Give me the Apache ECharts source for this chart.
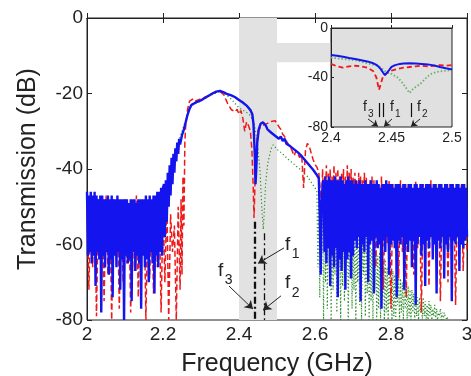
<!DOCTYPE html>
<html>
<head>
<meta charset="utf-8">
<script src="https://cdn.jsdelivr.net/npm/echarts@6/dist/echarts.min.js"></script>
<style>
  html, body { margin: 0; padding: 0; background: #fff; }
  #c { width: 471px; height: 376px; }
</style>
</head>
<body>
<div id="c"></div>
<script>
// ---- measured transmission (dB) ----
// Blue trace, stop band below 2.2 GHz (grid 2.000 GHz, step 2.5 MHz)
const blueLow = [
  -46,-63,-47,-62,-46,-65,-47,-63,-46,-71,-47,-62,-48,-64,-47,-78,-47,-63,-48,-66,
  -48,-62,-47,-68,-48,-64,-47,-74,-48,-63,-48,-66,-47,-62,-48,-72,-48,-64,-48,-80,
  -48,-63,-48,-65,-49,-64,-48,-75,-48,-62,-48,-67,-49,-63,-48,-65,-48,-77,-48,-63,
  -48,-66,-47,-64,-48,-70,-47,-62,-48,-65,-47,-73,-47,-63,-46,-66,-46,-62,-45,-63,
  -45
];
// Blue trace, pass band [GHz, dB]
const bluePass = [
  [2.2025,-44],[2.205,-58],[2.2075,-43],[2.21,-54],[2.2125,-41],[2.215,-50],[2.2175,-39],
  [2.22,-47],[2.2225,-37],[2.225,-44],[2.2275,-36],[2.23,-41],[2.2325,-34.5],[2.235,-38],
  [2.2375,-33],[2.24,-36],[2.2425,-32],[2.245,-33.5],[2.25,-31],[2.255,-29.5],[2.26,-27.5],
  [2.265,-25.5],[2.27,-24],[2.275,-23],[2.28,-22.6],[2.29,-22.2],[2.3,-21.8],[2.31,-21.2],
  [2.32,-20.6],[2.33,-20],[2.34,-19.5],[2.35,-19.3],[2.36,-19.7],[2.37,-20.2],[2.38,-20.5],
  [2.39,-21],[2.4,-21.7],[2.41,-22.4],[2.42,-23.2],[2.43,-24.4],[2.435,-25.5],[2.438,-28],
  [2.4415,-36],[2.4435,-44],[2.4455,-40],[2.448,-33],[2.452,-29.5],[2.457,-28],[2.463,-27.6],
  [2.47,-28.4],[2.475,-29.5],[2.48,-29.2],[2.485,-30.4],[2.49,-30],[2.495,-31.2],[2.5,-30.8],
  [2.505,-32],[2.51,-31.4],[2.515,-32.6],[2.52,-32],[2.525,-33.3],[2.53,-32.8],[2.535,-34],
  [2.54,-33.5],[2.545,-34.8],[2.55,-34.3],[2.555,-35.6],[2.56,-35.2],[2.565,-36.6],[2.57,-36.2],
  [2.575,-37.8],[2.58,-37.4],[2.585,-39],[2.59,-38.6],[2.595,-40.2],[2.6,-40],[2.605,-41.6],
  [2.61,-42.5],[2.6125,-52],[2.615,-68],[2.6175,-50],[2.62,-44]
];
// Blue trace, upper stop band (grid 2.6225 GHz, step 2.5 MHz)
const blueHigh = [
  -43,-62,-42,-65,-43,-61,-42,-71,-43,-63,-43,-66,-42,-61,-43,-74,-43,-64,-42,-67,-43,-62,-44,-72,-43,-64,-42,-62,-43,-69,-43,-63,
  -44,-59,-43,-61,-44,-58,-43,-75,-44,-60,-44,-62,-43,-58,-44,-70,-44,-60,-43,-59,-44,-73,-44,-58,-43,-61,-44,-60,-45,-77,-44,-59,-44,-62,-43,-58,-44,-68,-44,-60,
  -44,-59,-45,-61,-44,-74,-44,-59,-44,-60,-45,-58,-44,-72,-44,-60,-45,-62,-44,-59,-44,-66,-45,-59,-44,-76,-44,-60,-45,-58,-44,-63,-44,-60,-45,-71,-44,-59,-44,-61,
  -44,-58,-45,-64,-44,-60,-44,-73,-45,-59,-44,-61,-44,-58,-45,-69,-44,-60,-44,-62,-45,-58,-44,-75,-44,-59,-45,-60,-44,-58,-44,-67,-45,-60,-44,-61,-44,-59,-45,-58
];

// Red trace, lower stop band (grid 2.000 GHz, step 5 MHz)
const redLow = [
  -48,-72,-47,-66,-49,-79,-48,-64,-50,-75,-47,-68,-49,-80,-48,-63,-50,-77,-49,-70,
  -48,-65,-50,-78,-49,-67,-47,-74,-50,-62,-48,-80,-49,-69,-50,-73,-48,-66,-49,-78,
  -50,-70,-48,-80,-52,-62,-55,-80,-50,-72
];
// Red trace, pass band [GHz, dB]
const redPass = [
  [2.2475,-48],[2.25,-68],[2.2525,-42],[2.255,-55],[2.2575,-33],[2.26,-28],[2.265,-24],
  [2.27,-22],[2.275,-21.5],[2.28,-21.4],[2.285,-22],[2.29,-21.6],[2.3,-21.4],[2.31,-21],
  [2.32,-20.6],[2.33,-20],[2.34,-19.6],[2.35,-19.5],[2.36,-20.3],[2.365,-21.5],[2.37,-22.6],
  [2.375,-23.5],[2.38,-24.3],[2.385,-23.8],[2.39,-24.8],[2.395,-24.2],[2.4,-25.5],[2.405,-24.5],
  [2.41,-26.5],[2.415,-30],[2.42,-27.5],[2.425,-28.5],[2.43,-30],[2.434,-35],[2.4375,-45],
  [2.4395,-53],[2.4415,-46],[2.444,-38],[2.447,-33],[2.45,-30],[2.455,-29.2],[2.46,-28.7],
  [2.465,-28.3],[2.47,-28.5],[2.475,-27.9],[2.48,-28.2],[2.485,-27.4],[2.49,-27.8],[2.495,-27.2],
  [2.5,-27.4],[2.505,-28.8],[2.51,-29.5],[2.515,-30.8],[2.52,-31.4],[2.525,-32.6],[2.53,-33.5],
  [2.535,-34.2],[2.54,-35.2],[2.545,-36.5],[2.55,-35.2],[2.555,-35.6],[2.56,-37],[2.565,-36.2],
  [2.57,-45],[2.575,-35],[2.58,-33.2],[2.585,-34],[2.59,-35.8],[2.595,-37.5],[2.6,-38.8],
  [2.605,-39.5],[2.61,-41]
];
// Red trace, upper stop band near the edge (grid 2.615 GHz, step 2.5 MHz)
const redHighNear = [
  -41,-50,-40,-53,-42,-48,-39,-55,-41,-51,-40,-54,-42,-49,-39,-56,-41,-52,-40,-50,
  -42,-54,-41,-49,-40,-57,-42,-51,-39,-53,-41,-50,-40,-55,-42,-48,-41,-52,-43,-56,
  -41,-50,-42,-54,-43,-49,-41,-53,-42,-58,-44,-51,-43,-55,-42,-52
];
// Red trace, upper stop band far side (grid 2.755 GHz, step 5 MHz)
const redHighFar = [
  -43,-66,-44,-58,-42,-72,-45,-60,-43,-77,-44,-57,-45,-69,-43,-62,-46,-74,-44,-59,-45,-68,-43,-61,-46,-78,
  -44,-63,-45,-71,-43,-58,-46,-66,-44,-75,-45,-60,-46,-70,-44,-64,-45,-76,-46,-59,-44,-67,-45,-62
];

// Green trace, pass band [GHz, dB]
const greenPass = [
  [2.2,-62],[2.21,-50],[2.22,-42],[2.23,-37],[2.24,-33],[2.25,-30],[2.26,-27],[2.27,-24],
  [2.28,-22.8],[2.3,-22],[2.32,-20.8],[2.34,-19.8],[2.35,-19.5],[2.36,-19.8],[2.38,-21.5],
  [2.4,-23.8],[2.42,-25],[2.43,-25.8],[2.44,-28],[2.445,-31],[2.45,-35],[2.455,-40],
  [2.458,-46],[2.461,-52],[2.464,-56],[2.467,-50],[2.47,-44],[2.475,-39],
  [2.48,-36.5],[2.485,-34.5],[2.49,-33.6],[2.495,-34],[2.5,-34.8],[2.51,-35.6],[2.52,-36.5],
  [2.53,-37.5],[2.54,-38.3],[2.55,-39.2],[2.56,-40],[2.57,-41],[2.58,-42],[2.59,-43.5],[2.6,-45]
];
// Green trace, upper stop band (grid 2.605 GHz, step 2.5 MHz)
const greenHigh = [
  -46,-66,-47,-74,-46,-62,-47,-80,-48,-70,-47,-77,-48,-65,-49,-80,-48,-72,-49,-68,
  -50,-78,-49,-66,-51,-80,-50,-71,-52,-75,-51,-64,-52,-80,-53,-69,-52,-77,-54,-72,
  -54,-80,-55,-70,-56,-76,-55,-80,-57,-68,-58,-79,-57,-73,-59,-80,-60,-75,-61,-80,
  -61,-72,-62,-80,-63,-77,-62,-80,-64,-74,-65,-80,-64,-78,-66,-80,-66,-76,-67,-80,
  -67,-79,-68,-80,-68,-76,-69,-80,-69,-78,-70,-80,-70,-77,-71,-80,-71,-79,-72,-80,
  -72,-78,-73,-80,-73,-79,-74,-80,-74,-78,-75,-80,-74,-79,-75,-80,-76,-80,-75,-79,
  -76,-80,-77,-79,-76,-80,-77,-80,-78,-79,-77,-80,-78,-80,-78,-79,-79,-80,-79
];

// ---- zoomed view 2.4–2.5 GHz [GHz, dB] ----
const zoomBlue = [
  [2.4,-21.8],[2.405,-22.5],[2.41,-23.3],[2.415,-24.2],[2.42,-25],[2.425,-26],[2.43,-27],
  [2.435,-28.5],[2.438,-30],[2.441,-33],[2.443,-36],[2.4446,-38],[2.446,-36.5],[2.448,-34],
  [2.45,-31.5],[2.453,-30],[2.457,-29],[2.46,-28.6],[2.465,-28.4],[2.47,-28.6],[2.475,-29],
  [2.48,-29.4],[2.485,-30.2],[2.49,-31.5],[2.495,-32.6],[2.5,-33.5]
];
const zoomRed = [
  [2.4,-29],[2.405,-31],[2.41,-32],[2.415,-31],[2.42,-30.5],[2.425,-31],[2.43,-32],[2.435,-35],
  [2.4375,-40],[2.4397,-50],[2.4415,-44],[2.443,-39],[2.446,-36.5],[2.45,-34.5],[2.455,-33],
  [2.46,-32],[2.465,-31.5],[2.47,-31],[2.475,-30.5],[2.48,-31],[2.485,-30.5],[2.49,-30],
  [2.495,-30.5],[2.5,-30]
];
const zoomGreen = [
  [2.4,-24],[2.42,-26],[2.44,-31],[2.446,-36],[2.45,-37],[2.455,-40],[2.458,-43],[2.461,-47],
  [2.4635,-50.5],[2.465,-52.5],[2.4665,-51],[2.468,-49],[2.471,-47],[2.474,-45],[2.477,-42],
  [2.48,-39],[2.483,-37],[2.487,-35.5],[2.49,-35],[2.495,-34.5],[2.5,-34]
];

// ---- resonance markers f1, f2, f3 (GHz) ----
const markerFreqs = [2.4395, 2.4435, 2.466];
const mainMarkerTops = [-54, -54, -57];

const BLUE = '#1414ee', RED = '#ee1a1a', GREEN = '#2a8c2a';
const FONT = '"Liberation Sans", Arial, Helvetica, sans-serif';

function onGrid(start, step, values) {
  return values.map((v, i) => [+(start + i * step).toFixed(4), v]);
}

const blueData = [...onGrid(2.0, 0.0025, blueLow), ...bluePass, ...onGrid(2.6225, 0.0025, blueHigh)];
const redData = [...onGrid(2.0, 0.005, redLow), ...redPass,
  ...onGrid(2.615, 0.0025, redHighNear), ...onGrid(2.755, 0.005, redHighFar)];
const greenData = [...greenPass, ...onGrid(2.605, 0.0025, greenHigh)];

const tickFmt = v => String(Number(v.toFixed(2)));

const mainAxisCommon = {
  axisLine: { show: true, lineStyle: { color: '#222', width: 1 } },
  axisTick: { show: true, inside: true, length: 5, lineStyle: { color: '#222' } },
  splitLine: { show: false }
};

const option = {
  animation: false,
  backgroundColor: '#fff',
  grid: [
    { left: 87, top: 18, width: 380, height: 302, containLabel: false, outerBoundsMode: 'none',
      show: true, borderColor: '#222', borderWidth: 1, backgroundColor: 'transparent' },
    { left: 331, top: 28, width: 121, height: 99, containLabel: false, outerBoundsMode: 'none',
      show: true, borderColor: '#222', borderWidth: 1, backgroundColor: '#e0e0e0' }
  ],
  xAxis: [
    Object.assign({
      type: 'value', gridIndex: 0, min: 2, max: 3, interval: 0.2, position: 'bottom',
      axisLabel: { fontFamily: FONT, fontSize: 19, color: '#222', margin: 5, formatter: tickFmt },
      name: 'Frequency (GHz)', nameLocation: 'middle', nameGap: 32,
      nameTextStyle: { fontFamily: FONT, fontSize: 25, color: '#222' }
    }, mainAxisCommon),
    Object.assign({
      type: 'value', gridIndex: 0, min: 2, max: 3, interval: 0.2, position: 'top',
      axisLabel: { show: false }
    }, mainAxisCommon),
    {
      type: 'value', gridIndex: 1, min: 2.4, max: 2.5, interval: 0.05,
      axisLine: { show: true, lineStyle: { color: '#222' } },
      axisTick: { show: true, inside: true, length: 3, lineStyle: { color: '#222' } },
      splitLine: { show: false },
      axisLabel: { fontFamily: FONT, fontSize: 14, color: '#222', margin: 4, formatter: tickFmt, showMaxLabel: true, showMinLabel: true }
    }
  ],
  yAxis: [
    Object.assign({
      type: 'value', gridIndex: 0, min: -80, max: 0, interval: 20, position: 'left',
      axisLabel: { fontFamily: FONT, fontSize: 19, color: '#222', margin: 4 },
      name: 'Transmission (dB)', nameLocation: 'middle', nameGap: 46,
      nameTextStyle: { fontFamily: FONT, fontSize: 25, color: '#222' }
    }, mainAxisCommon),
    Object.assign({
      type: 'value', gridIndex: 0, min: -80, max: 0, interval: 20, position: 'right',
      axisLabel: { show: false }
    }, mainAxisCommon),
    {
      type: 'value', gridIndex: 1, min: -80, max: 0, interval: 40,
      axisLine: { show: true, lineStyle: { color: '#222' } },
      axisTick: { show: true, inside: true, length: 3, lineStyle: { color: '#222' } },
      splitLine: { show: false },
      axisLabel: { fontFamily: FONT, fontSize: 14, color: '#222', margin: 3 }
    }
  ],
  series: [
    // shaded zoom band and its connector to the inset
    {
      type: 'line', xAxisIndex: 0, yAxisIndex: 0, data: [], z: 1, silent: true,
      markArea: {
        silent: true,
        itemStyle: { color: '#e2e2e2' },
        data: [
          [{ coord: [2.4, -80] }, { coord: [2.5, 0] }],
          [{ coord: [2.5, -6.6] }, { coord: [2.64, -11.7] }]
        ]
      }
    },
    {
      name: 'green', type: 'line', xAxisIndex: 0, yAxisIndex: 0, data: greenData, z: 2,
      showSymbol: false, symbol: 'none',
      lineStyle: { color: GREEN, width: 1.2, type: [1.2, 2.4] }
    },
    {
      name: 'red', type: 'line', xAxisIndex: 0, yAxisIndex: 0, data: redData, z: 3,
      showSymbol: false, symbol: 'none',
      lineStyle: { color: RED, width: 1.5, type: [6, 3] }
    },
    {
      name: 'blue', type: 'line', xAxisIndex: 0, yAxisIndex: 0, data: blueData, z: 4,
      showSymbol: false, symbol: 'none',
      lineStyle: { color: BLUE, width: 2.4 }
    },
    // resonance markers + arrows in the main plot
    {
      type: 'line', xAxisIndex: 0, yAxisIndex: 0, data: [], z: 5, silent: true,
      markLine: {
        silent: true, symbol: ['none', 'none'], label: { show: false },
        lineStyle: { color: '#111', width: 1.3, type: [7, 3, 2, 3] },
        data: markerFreqs.map((f, i) => [{ coord: [f, mainMarkerTops[i]] }, { coord: [f, -80] }])
      }
    },
    {
      type: 'line', xAxisIndex: 0, yAxisIndex: 0, data: [], z: 6, silent: true,
      markLine: {
        silent: true, symbol: ['none', 'arrow'], symbolSize: 8, label: { show: false },
        lineStyle: { color: '#222', width: 1, type: 'solid' },
        data: [
          [{ coord: [2.5184, -60.9] }, { coord: [2.450, -65.0] }],
          [{ coord: [2.3737, -71.0] }, { coord: [2.4368, -77.1] }],
          [{ coord: [2.5105, -73.6] }, { coord: [2.4632, -77.4] }]
        ]
      }
    },
    // inset traces
    {
      type: 'line', xAxisIndex: 2, yAxisIndex: 2, data: zoomGreen, z: 7,
      showSymbol: false, symbol: 'none', lineStyle: { color: '#66b066', width: 1.8, type: [1.5, 2] }
    },
    {
      type: 'line', xAxisIndex: 2, yAxisIndex: 2, data: zoomRed, z: 8,
      showSymbol: false, symbol: 'none', lineStyle: { color: RED, width: 1.8, type: [5, 3] }
    },
    {
      type: 'line', xAxisIndex: 2, yAxisIndex: 2, data: zoomBlue, z: 9,
      showSymbol: false, symbol: 'none', lineStyle: { color: BLUE, width: 2 }
    },
    {
      type: 'line', xAxisIndex: 2, yAxisIndex: 2, data: [], z: 10, silent: true,
      markLine: {
        silent: true, symbol: ['none', 'none'], label: { show: false },
        lineStyle: { color: '#111', width: 1.2, type: 'solid' },
        data: markerFreqs.map(f => [{ coord: [f, -60.6] }, { coord: [f, -72] }])
      }
    },
    {
      type: 'line', xAxisIndex: 2, yAxisIndex: 2, data: [], z: 10, silent: true,
      markLine: {
        silent: true, symbol: ['none', 'arrow'], symbolSize: 6, label: { show: false },
        lineStyle: { color: '#222', width: 1, type: 'solid' },
        data: [
          [{ coord: [2.4306, -73.5] }, { coord: [2.4388, -79.5] }],
          [{ coord: [2.4504, -73.5] }, { coord: [2.4438, -79.5] }],
          [{ coord: [2.4736, -73.5] }, { coord: [2.4661, -79.5] }]
        ]
      }
    }
  ]
};

const chart = echarts.init(document.getElementById('c'), null, { renderer: 'canvas' });
chart.setOption(option);

// f-labels: [grid, anchor GHz, anchor dB (baseline of "f"), subscript, font size, subscript size]
const fLabels = [
  [0, 2.5211, -62.5, '1', 19, 14],
  [0, 2.5211, -72.6, '2', 19, 14],
  [0, 2.3447, -69.4, '3', 19, 14],
  [1, 2.4265, -69.5, '3', 14, 10],
  [1, 2.4488, -69.5, '1', 14, 10],
  [1, 2.4711, -69.5, '2', 14, 10]
];
const graphics = [];
fLabels.forEach(([g, f, db, sub, fs, ss]) => {
  const p = chart.convertToPixel({ gridIndex: g }, [f, db]);
  graphics.push({
    type: 'text', x: p[0], y: p[1], z: 100,
    style: { text: 'f', font: fs + 'px ' + FONT, fill: '#222', textAlign: 'left', textVerticalAlign: 'bottom' }
  });
  graphics.push({
    type: 'text', x: p[0] + fs * 0.36, y: p[1] + fs * 0.4, z: 100,
    style: { text: sub, font: ss + 'px ' + FONT, fill: '#222', textAlign: 'left', textVerticalAlign: 'bottom' }
  });
});
chart.setOption({ graphic: graphics });
</script>
</body>
</html>
